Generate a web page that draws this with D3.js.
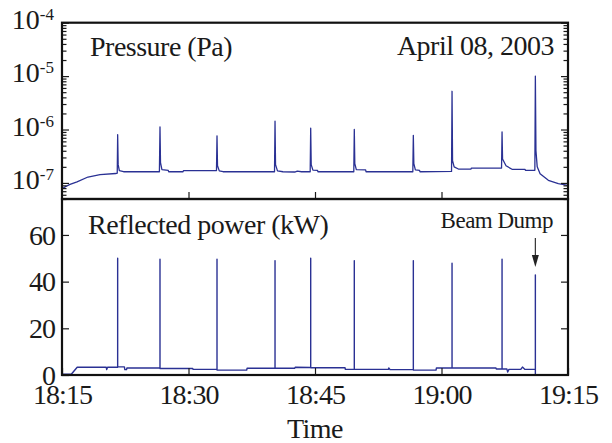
<!DOCTYPE html>
<html>
<head>
<meta charset="utf-8">
<script src="https://cdn.jsdelivr.net/npm/d3@7"></script>
<style>
  html, body { margin: 0; padding: 0; background: #fff; }
  svg { display: block; }
  text { font-family: "Liberation Serif", "Times New Roman", serif; fill: #1a1a1a; }
</style>
</head>
<body>
<div id="chart"></div>
<script>
// minutes after 18:15 on April 08, 2003
const startTime = new Date(2003, 3, 8, 18, 15);
const tickMinutes = [0, 15, 30, 45, 60];
const tickLabels = ["18:15", "18:30", "18:45", "19:00", "19:15"];

// pressure (Pa), [minute, value]
const pressure = [
  [0.00, 7.8e-8], [0.47, 8.6e-8], [0.95, 9.4e-8], [1.78, 1.05e-7], [3.08, 1.29e-7],
  [4.51, 1.43e-7], [6.37, 1.50e-7], [6.55, 1.52e-7], [6.60, 8.0e-7], [6.66, 2.2e-7],
  [6.80, 1.70e-7], [7.30, 1.62e-7], [11.55, 1.62e-7], [11.62, 1.12e-6], [11.68, 2.4e-7],
  [11.85, 1.78e-7], [12.60, 1.72e-7], [12.65, 1.62e-7], [14.35, 1.62e-7], [14.40, 1.70e-7],
  [18.32, 1.70e-7], [18.38, 7.6e-7], [18.44, 2.1e-7], [18.65, 1.68e-7], [19.10, 1.62e-7],
  [25.20, 1.62e-7], [25.26, 1.43e-6], [25.32, 2.2e-7], [25.55, 1.68e-7], [26.20, 1.62e-7],
  [27.60, 1.60e-7], [27.90, 1.66e-7], [28.40, 1.62e-7], [29.43, 1.62e-7], [29.49, 1.06e-6],
  [29.55, 2.2e-7], [29.75, 1.74e-7], [30.30, 1.72e-7], [30.35, 1.62e-7], [34.60, 1.62e-7],
  [34.66, 1.0e-6], [34.72, 2.3e-7], [34.90, 1.78e-7], [36.00, 1.76e-7], [36.05, 1.62e-7],
  [41.60, 1.62e-7], [41.66, 7.8e-7], [41.72, 2.3e-7], [41.90, 1.76e-7], [42.40, 1.72e-7],
  [42.45, 1.62e-7], [46.19, 1.64e-7], [46.25, 5.2e-6], [46.31, 2.6e-7], [46.50, 2.0e-7],
  [47.00, 1.82e-7], [48.50, 1.82e-7], [48.55, 1.90e-7], [52.12, 1.90e-7], [52.18, 9.0e-7],
  [52.24, 2.8e-7], [52.65, 2.1e-7], [53.36, 1.80e-7], [54.90, 1.80e-7], [54.95, 1.72e-7],
  [56.07, 1.72e-7], [56.13, 1.0e-5], [56.20, 4.0e-7], [56.35, 2.0e-7], [56.69, 1.49e-7],
  [57.67, 1.12e-7], [58.85, 9.7e-8], [60.00, 9.0e-8]
];

// reflected power (kW), [minute, value]
const power = [
  [0, 0.3], [1.1, 0.3], [1.8, 3.3], [5.25, 3.3], [5.3, 2.3], [5.4, 3.3],
  [6.60, 3.3], [6.60, 50.0], [6.60, 3.5], [7.40, 3.5], [7.45, 2.3], [7.65, 2.3], [7.70, 3.0],
  [11.62, 3.0], [11.62, 49.6], [11.62, 2.8], [15.5, 2.8], [15.55, 2.4],
  [18.38, 2.4], [18.38, 49.6], [18.38, 2.1], [21.9, 2.1], [21.95, 2.9],
  [25.26, 2.9], [25.26, 49.0], [25.26, 2.9], [27.6, 2.9], [27.65, 3.3],
  [29.49, 3.2], [29.49, 50.0], [29.49, 3.1], [33.56, 3.1], [33.6, 2.4],
  [34.66, 2.4], [34.66, 49.0], [34.66, 2.4], [38.7, 2.4], [38.75, 3.0], [38.9, 2.3],
  [41.66, 2.3], [41.66, 49.0], [41.66, 2.1], [44.35, 2.1], [44.4, 3.0],
  [46.25, 3.0], [46.25, 47.9], [46.25, 3.0], [51.46, 3.0], [51.5, 2.6],
  [52.18, 2.6], [52.18, 49.6], [52.18, 2.6], [52.75, 2.6], [52.85, 1.3], [53.0, 2.4],
  [54.4, 2.4], [54.6, 3.4], [54.9, 2.4],
  [56.13, 2.4], [56.13, 42.9], [56.13, 0], [60, 0]
];

const pressureMajor = [1e-4, 1e-5, 1e-6, 1e-7];
const powerTicks = [0, 20, 40, 60];
const beamDumpMinute = 56.13;

const toDate = m => new Date(startTime.getTime() + m * 60000);

const W = 612, H = 443;
const left = 62, right = 568, top1 = 22.7, mid = 199, bottom = 375;
const lineColor = "#2a3194";

const svg = d3.select("#chart").append("svg")
  .attr("width", W).attr("height", H);

const x = d3.scaleTime()
  .domain([toDate(0), toDate(60)])
  .range([left, right]);

const yP = d3.scaleLog().domain([5e-8, 1e-4]).range([mid, top1]);
const yR = d3.scaleLinear().domain([0, 75.4]).range([bottom, mid]);

// clip for each panel
const defs = svg.append("defs");
defs.append("clipPath").attr("id", "clipTop").append("rect")
  .attr("x", left).attr("y", top1).attr("width", right - left).attr("height", mid - top1);
defs.append("clipPath").attr("id", "clipBot").append("rect")
  .attr("x", left).attr("y", mid).attr("width", right - left).attr("height", bottom - mid);

// lines
const lineP = d3.line().x(d => x(toDate(d[0]))).y(d => yP(d[1]));
const lineR = d3.line().x(d => x(toDate(d[0]))).y(d => yR(d[1]));

svg.append("path")
  .datum(pressure)
  .attr("clip-path", "url(#clipTop)")
  .attr("fill", "none")
  .attr("stroke", lineColor)
  .attr("stroke-width", 1.3)
  .attr("stroke-linejoin", "round")
  .attr("d", lineP);

svg.append("path")
  .datum(power)
  .attr("clip-path", "url(#clipBot)")
  .attr("fill", "none")
  .attr("stroke", lineColor)
  .attr("stroke-width", 1.4)
  .attr("stroke-linejoin", "round")
  .attr("d", lineR);

// axes helper: strip default styling
function styleAxis(g) {
  g.attr("font-family", null).attr("font-size", null);
  g.select(".domain").remove();
  g.selectAll(".tick line").attr("stroke", "#1a1a1a").attr("stroke-width", 1.2);
}

const tickDates = tickMinutes.map(toDate);

// top panel x ticks (no labels)
svg.append("g")
  .attr("transform", `translate(0,${mid})`)
  .call(d3.axisBottom(x).tickValues(tickDates.slice(1, -1)).tickSize(-7).tickFormat(""))
  .call(styleAxis);

// bottom panel x axis with labels
svg.append("g")
  .attr("transform", `translate(0,${bottom})`)
  .call(d3.axisBottom(x).tickValues(tickDates).tickSize(-7).tickPadding(9)
    .tickFormat((d, i) => tickLabels[i]))
  .call(styleAxis)
  .call(g => g.selectAll("text")
    .attr("font-size", 28).attr("letter-spacing", -1).attr("fill", "#1a1a1a"));

// pressure minor ticks, both sides
const pressureMinor = yP.ticks().filter(v => !pressureMajor.includes(v));
svg.append("g")
  .attr("transform", `translate(${left},0)`)
  .call(d3.axisLeft(yP).tickValues(pressureMinor).tickSize(-4.5).tickFormat(""))
  .call(styleAxis);
svg.append("g")
  .attr("transform", `translate(${right},0)`)
  .call(d3.axisRight(yP).tickValues(pressureMinor).tickSize(-4.5).tickFormat(""))
  .call(styleAxis);
svg.append("g")
  .attr("transform", `translate(${right},0)`)
  .call(d3.axisRight(yP).tickValues(pressureMajor).tickSize(-7).tickFormat(""))
  .call(styleAxis);

// pressure major ticks with 10^n labels
svg.append("g")
  .attr("transform", `translate(${left},0)`)
  .call(d3.axisLeft(yP).tickValues(pressureMajor).tickSize(-7).tickPadding(8).tickFormat(""))
  .call(styleAxis)
  .call(g => g.selectAll(".tick text").each(function (d) {
    const t = d3.select(this)
      .attr("dy", "0.36em")
      .attr("fill", "#1a1a1a");
    t.append("tspan").attr("font-size", 28).text("10");
    t.append("tspan").attr("font-size", 17).attr("dy", -9)
      .text("-" + Math.round(-Math.log10(d)));
  }));

// power y axes
svg.append("g")
  .attr("transform", `translate(${left},0)`)
  .call(d3.axisLeft(yR).tickValues(powerTicks).tickSize(-7).tickPadding(7))
  .call(styleAxis)
  .call(g => g.selectAll("text")
    .attr("font-size", 28).attr("letter-spacing", -1).attr("dy", "0.33em").attr("fill", "#1a1a1a"));
svg.append("g")
  .attr("transform", `translate(${right},0)`)
  .call(d3.axisRight(yR).tickValues(powerTicks.slice(1)).tickSize(-7).tickFormat(""))
  .call(styleAxis);

// frames
[[top1, mid], [mid, bottom]].forEach(([a, b]) => {
  svg.append("rect")
    .attr("x", left).attr("y", a)
    .attr("width", right - left).attr("height", b - a)
    .attr("fill", "none").attr("stroke", "#111").attr("stroke-width", 2.2);
});

// panel labels
svg.append("text").attr("x", 90).attr("y", 56)
  .attr("font-size", 28).attr("letter-spacing", -0.5).text("Pressure (Pa)");
svg.append("text").attr("x", 554).attr("y", 55).attr("text-anchor", "end")
  .attr("font-size", 28).attr("letter-spacing", -0.5).text("April 08, 2003");
svg.append("text").attr("x", 88).attr("y", 234)
  .attr("font-size", 28).attr("letter-spacing", -0.5).text("Reflected power (kW)");
svg.append("text").attr("x", 553).attr("y", 228).attr("text-anchor", "end")
  .attr("font-size", 23).attr("letter-spacing", -0.5).text("Beam Dump");
svg.append("text").attr("x", (left + right) / 2).attr("y", 438).attr("text-anchor", "middle")
  .attr("font-size", 28).attr("letter-spacing", -0.5).text("Time");

// beam dump arrow
const ax = x(toDate(beamDumpMinute));
svg.append("line")
  .attr("x1", ax).attr("x2", ax).attr("y1", 238).attr("y2", 256)
  .attr("stroke", "#333").attr("stroke-width", 1.2);
svg.append("path")
  .attr("d", `M${ax - 3.5},255 L${ax + 3.5},255 L${ax},267 Z`)
  .attr("fill", "#222");
</script>
</body>
</html>
